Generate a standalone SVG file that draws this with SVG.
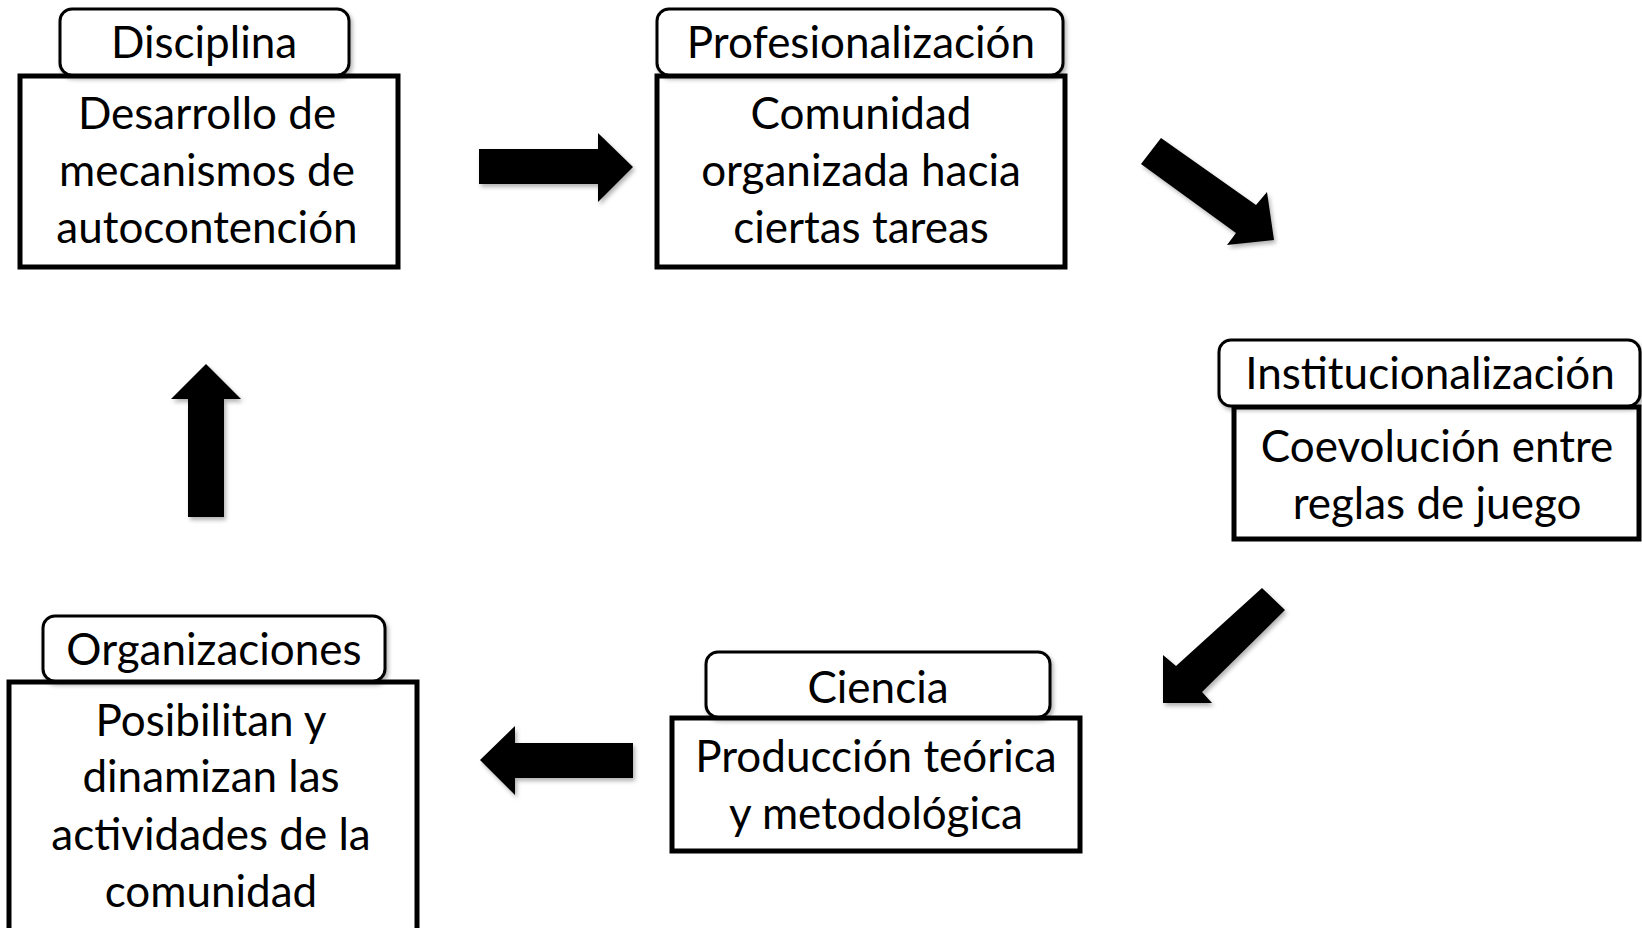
<svg xmlns="http://www.w3.org/2000/svg" width="1642" height="928" viewBox="0 0 1642 928">
<defs>
<filter id="sh" x="-10%" y="-10%" width="130%" height="140%">
<feDropShadow dx="2" dy="3" stdDeviation="2" flood-color="#000" flood-opacity="0.3"/>
</filter>
<style>
.main{fill:#fff;stroke:#000;stroke-width:5}
.lab{fill:#fff;stroke:#000;stroke-width:3;filter:url(#sh)}
.arr{fill:#000;filter:url(#sh)}
text{font-family:Lato,"Liberation Sans",sans-serif;font-size:44px;fill:#000;text-anchor:middle}
</style>
</defs>
<rect width="1642" height="928" fill="#fff"/>
<g id="connectors">
<path class="arr" d="M479,149 H598 V133 L633,167 L598,202 V184 H479 Z"/>
<path class="arr" d="M1161,138 L1256,205 L1267,192 L1274,240 L1227,245 L1236,233 L1141,164 Z"/>
<path class="arr" d="M1262,588 L1285,610 L1202,692 L1212,703 L1163,703 L1163,655 L1176,666 Z"/>
<path class="arr" d="M633,743 H515 V726 L480,760 L515,795 V778 H633 Z"/>
<path class="arr" d="M188,517 V399 H171 L206,364 L241,399 H224 V517 Z"/>
</g>
<g id="disciplina">
<rect class="main" x="20" y="76" width="378" height="191"/>
<rect class="lab" x="60" y="9" width="289" height="66" rx="12"/>
<text x="204" y="58">Disciplina</text>
<text x="207" y="129">Desarrollo de</text>
<text x="207" y="186">mecanismos de</text>
<text x="207" y="243">autocontención</text>
</g>
<g id="profesionalizacion">
<rect class="main" x="657" y="76" width="408" height="191"/>
<rect class="lab" x="657" y="9" width="406" height="66" rx="12"/>
<text x="861" y="58">Profesionalización</text>
<text x="861" y="129">Comunidad</text>
<text x="861" y="186">organizada hacia</text>
<text x="861" y="243">ciertas tareas</text>
</g>
<g id="institucionalizacion">
<rect class="main" x="1234" y="407" width="405" height="132"/>
<rect class="lab" x="1219" y="340" width="421" height="66" rx="12"/>
<text x="1430" y="389">Institucionalización</text>
<text x="1437" y="462">Coevolución entre</text>
<text x="1437" y="519">reglas de juego</text>
</g>
<g id="ciencia">
<rect class="main" x="672" y="718" width="408" height="133"/>
<rect class="lab" x="706" y="652" width="344" height="65" rx="12"/>
<text x="878" y="703">Ciencia</text>
<text x="876" y="772">Producción teórica</text>
<text x="876" y="829">y metodológica</text>
</g>
<g id="organizaciones">
<rect class="main" x="9" y="682" width="408" height="260"/>
<rect class="lab" x="43" y="616" width="342" height="65" rx="12"/>
<text x="214" y="665">Organizaciones</text>
<text x="211" y="736">Posibilitan y</text>
<text x="211" y="792">dinamizan las</text>
<text x="211" y="850">actividades de la</text>
<text x="211" y="907">comunidad</text>
</g>
</svg>
